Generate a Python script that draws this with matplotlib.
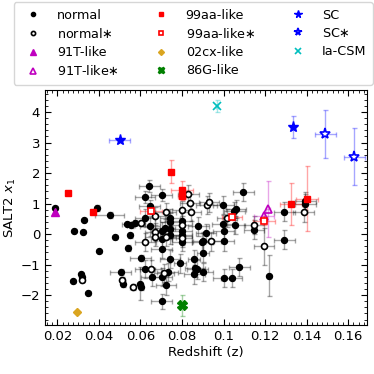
import matplotlib
matplotlib.use("Agg")
import matplotlib.pyplot as plt
from matplotlib.ticker import MultipleLocator, FormatStrFormatter
import numpy as np

# normal (filled): z, x1, z_err, x1_err
norm_z = [0.0187, 0.0389, 0.0453, 0.0329, 0.0280, 0.0323, 0.0479, 0.0399, 0.0276, 0.0315,
          0.0319, 0.0347, 0.0533, 0.0553, 0.0573, 0.0550, 0.0541, 0.0602, 0.0505, 0.0514,
          0.0598, 0.0603, 0.0643, 0.0622, 0.0702, 0.0645, 0.0742, 0.0622, 0.0646, 0.0702,
          0.0718, 0.0742, 0.0742, 0.0742, 0.0702, 0.0800, 0.0800, 0.0800, 0.0800, 0.0879,
          0.0903, 0.1000, 0.1000, 0.1055, 0.1096, 0.0999, 0.1060, 0.1052, 0.0996, 0.0916,
          0.0800, 0.0898, 0.0702, 0.0742, 0.0790, 0.0858, 0.0900, 0.0863, 0.0874, 0.0900,
          0.0859, 0.0622, 0.0654, 0.0702, 0.0731, 0.0723, 0.0702, 0.1000, 0.1040, 0.1075,
          0.1293, 0.1393, 0.1393, 0.1147, 0.1293, 0.1218]
norm_x1 = [0.86, 0.86, 0.62, 0.47, 0.11, 0.08, -0.09, -0.56, -1.54, -1.32,
           -1.40, -1.93, 0.33, 0.29, 0.37, -0.04, -0.47, -0.78, -1.24, -1.65,
           -1.62, -1.73, 1.58, 1.22, 1.29, 0.91, 0.53, 0.53, 0.25, 0.11,
           0.20, 0.39, 0.17, -0.02, -0.16, 0.42, 0.11, -0.02, -0.27, 0.25,
           -0.24, 0.09, -0.24, 0.31, 1.38, 0.96, 0.82, 0.75, 0.34, 0.04,
           -0.07, -0.25, -0.48, -0.81, -0.96, -0.81, -0.61, -1.10, -1.16, -1.24,
           -1.32, -1.14, -1.40, -1.40, -1.24, -1.68, -2.20, -1.43, -1.43, -1.07,
           0.74, 1.00, 1.08, 0.15, -0.18, -1.36]
norm_zerr = [0.0005, 0.001, 0.007, 0.0005, 0.0005, 0.0005, 0.001, 0.0005, 0.0005, 0.0005,
             0.0005, 0.0005, 0.002, 0.002, 0.002, 0.001, 0.001, 0.005, 0.005, 0.001,
             0.001, 0.001, 0.005, 0.005, 0.005, 0.005, 0.005, 0.005, 0.005, 0.005,
             0.005, 0.005, 0.005, 0.005, 0.005, 0.005, 0.005, 0.005, 0.005, 0.005,
             0.005, 0.005, 0.005, 0.005, 0.005, 0.005, 0.005, 0.005, 0.005, 0.005,
             0.005, 0.005, 0.005, 0.005, 0.003, 0.003, 0.003, 0.005, 0.005, 0.005,
             0.005, 0.005, 0.005, 0.005, 0.005, 0.005, 0.005, 0.005, 0.005, 0.005,
             0.005, 0.005, 0.005, 0.005, 0.005, 0.001]
norm_x1err = [0.05, 0.1, 0.1, 0.05, 0.05, 0.05, 0.05, 0.05, 0.05, 0.05,
              0.05, 0.05, 0.08, 0.08, 0.08, 0.08, 0.1, 0.1, 0.1, 0.1,
              0.55, 0.1, 0.2, 0.2, 0.2, 0.2, 0.3, 0.3, 0.3, 0.3,
              0.3, 0.3, 0.3, 0.3, 0.3, 0.3, 0.3, 0.3, 0.3, 0.3,
              0.3, 0.3, 0.3, 0.3, 0.3, 0.3, 0.3, 0.3, 0.3, 0.3,
              0.3, 0.3, 0.3, 0.3, 0.3, 0.3, 0.3, 0.3, 0.3, 0.3,
              0.3, 0.3, 0.3, 0.3, 0.3, 0.3, 0.25, 0.3, 0.3, 0.3,
              0.3, 0.3, 0.3, 0.3, 0.3, 0.68]

# normal* (open)
nstar_z = [0.0602, 0.0623, 0.0830, 0.0839, 0.0800, 0.0721, 0.0670, 0.0843, 0.0919, 0.0930,
           0.0800, 0.0670, 0.0670, 0.0723, 0.0800, 0.0938, 0.1017, 0.0321, 0.0512, 0.0562,
           0.0649, 0.0713, 0.1147, 0.1195, 0.1385]
nstar_x1 = [0.37, -0.26, 1.31, 1.02, 0.80, 0.73, 0.60, 0.73, 0.95, 1.04,
            0.31, 0.07, -0.09, -0.09, -0.12, -0.24, 0.53, -1.52, -1.49, -1.74,
            -1.16, -1.27, 0.31, -0.40, 0.71]
nstar_zerr = [0.002, 0.005, 0.005, 0.005, 0.005, 0.005, 0.005, 0.005, 0.005, 0.005,
              0.005, 0.005, 0.005, 0.005, 0.005, 0.005, 0.005, 0.0005, 0.001, 0.001,
              0.005, 0.005, 0.005, 0.005, 0.005]
nstar_x1err = [0.1, 0.3, 0.3, 0.3, 0.3, 0.3, 0.3, 0.3, 0.3, 0.3,
               0.3, 0.3, 0.3, 0.3, 0.3, 0.3, 0.3, 0.05, 0.1, 0.1,
               0.3, 0.3, 0.3, 0.6, 0.3]

t91_z, t91_x1 = [0.0191], [0.72]
t91s_z = [0.1213, 0.1195]
t91s_x1 = [0.83, 0.58]
t91s_zerr = [0.001, 0.005]
t91s_x1err = [0.92, 0.1]

aa_z = [0.0249, 0.0370, 0.0747, 0.0800, 0.0800, 0.1324, 0.1404]
aa_x1 = [1.35, 0.73, 2.04, 1.45, 1.26, 0.99, 1.16]
aa_zerr = [0.0003, 0.0005, 0.001, 0.0052, 0.002, 0.0052, 0.0053]
aa_x1err = [0.03, 0.05, 0.38, 0.3, 0.15, 0.70, 1.06]

aas_z = [0.0650, 0.1041, 0.1195]
aas_x1 = [0.75, 0.55, 0.44]
aas_zerr = [0.0053, 0.005, 0.0053]
aas_x1err = [0.1, 0.1, 0.15]

cx_z, cx_x1 = [0.0297], [-2.56]
g86_z, g86_x1, g86_x1err = [0.0800], [-2.34], [0.33]

sc_z = [0.0501, 0.1335]
sc_x1 = [3.09, 3.51]
sc_zerr = [0.005, 0.001]
sc_x1err = [0.05, 0.35]

scs_z = [0.1489, 0.1629]
scs_x1 = [3.28, 2.54]
scs_zerr = [0.005, 0.005]
scs_x1err = [0.78, 0.94]

csm_z, csm_x1, csm_x1err = [0.0967], [4.20], [0.2]

plt.rcParams['font.size'] = 9
fig = plt.figure(figsize=(3.74, 3.74), dpi=100)
ax = fig.add_axes([0.12, 0.131, 0.861, 0.628])


def eb(z, y, ze, ye, col):
    ax.errorbar(z, y, xerr=ze, yerr=ye, fmt='none', ecolor=col, alpha=0.35,
                elinewidth=1.0, capsize=1.8, zorder=1)


eb(norm_z, norm_x1, norm_zerr, norm_x1err, 'k')
eb(nstar_z, nstar_x1, nstar_zerr, nstar_x1err, 'k')
eb(t91s_z, t91s_x1, t91s_zerr, t91s_x1err, 'm')
eb(aa_z, aa_x1, aa_zerr, aa_x1err, 'r')
eb(aas_z, aas_x1, aas_zerr, aas_x1err, 'r')
eb(g86_z, g86_x1, 0.0003, g86_x1err, 'g')
eb(sc_z, sc_x1, sc_zerr, sc_x1err, 'b')
eb(scs_z, scs_x1, scs_zerr, scs_x1err, 'b')
eb(csm_z, csm_x1, 0.0005, csm_x1err, 'c')

ms = 4.3
ax.plot(norm_z, norm_x1, 'o', color='k', ms=ms, ls='none', label='normal', zorder=3)
ax.plot(nstar_z, nstar_x1, 'o', mfc='white', mec='k', mew=1.2, ms=ms, ls='none',
        label='normal$\\ast$', zorder=3)
ax.plot(t91_z, t91_x1, '^', color='m', ms=6, ls='none', label='91T-like', zorder=3)
ax.plot(t91s_z, t91s_x1, '^', mfc='none', mec='m', mew=1.2, ms=6, ls='none',
        label='91T-like$\\ast$', zorder=3)
ax.plot(aa_z, aa_x1, 's', color='r', ms=ms, ls='none', label='99aa-like', zorder=3)
ax.plot(aas_z, aas_x1, 's', mfc='white', mec='r', mew=1.2, ms=ms, ls='none',
        label='99aa-like$\\ast$', zorder=3)
ax.plot(cx_z, cx_x1, 'D', color='goldenrod', ms=ms, ls='none', label='02cx-like', zorder=3)
ax.plot(g86_z, g86_x1, 'X', color='g', ms=6.5, ls='none', label='86G-like', zorder=3)
ax.plot(sc_z, sc_x1, '*', color='b', ms=8, ls='none', label='SC', zorder=3)
ax.plot(scs_z, scs_x1, '*', mfc='white', mec='b', mew=1.2, ms=8, ls='none',
        label='SC$\\ast$', zorder=3)
ax.plot(csm_z, csm_x1, 'x', color='c', ms=6, mew=1.2, ls='none', label='Ia-CSM', zorder=3)

ax.set_xlim(0.014, 0.169)
ax.set_ylim(-2.98, 4.72)
ax.xaxis.set_major_locator(MultipleLocator(0.02))
ax.xaxis.set_minor_locator(MultipleLocator(0.0025))
ax.xaxis.set_major_formatter(FormatStrFormatter('%g'))
ax.yaxis.set_major_locator(MultipleLocator(1))
ax.yaxis.set_minor_locator(MultipleLocator(0.2))
ax.tick_params(which='both', direction='in', top=True, right=True, labelsize=9.5)
ax.tick_params(which='major', length=4)
ax.tick_params(which='minor', length=2)
ax.set_xlabel('Redshift (z)', fontsize=9.5, labelpad=2)
ax.set_ylabel('SALT2 $x_1$', fontsize=9.5, labelpad=2)

fig.legend(loc='upper center', bbox_to_anchor=(0.517, 0.997), ncol=3, fontsize=9.2,
           markerscale=0.7, handletextpad=0.9, columnspacing=2.3, labelspacing=0.4,
           borderpad=0.5, handlelength=2.0, borderaxespad=0.1)

fig.savefig('out.png', dpi=100)
